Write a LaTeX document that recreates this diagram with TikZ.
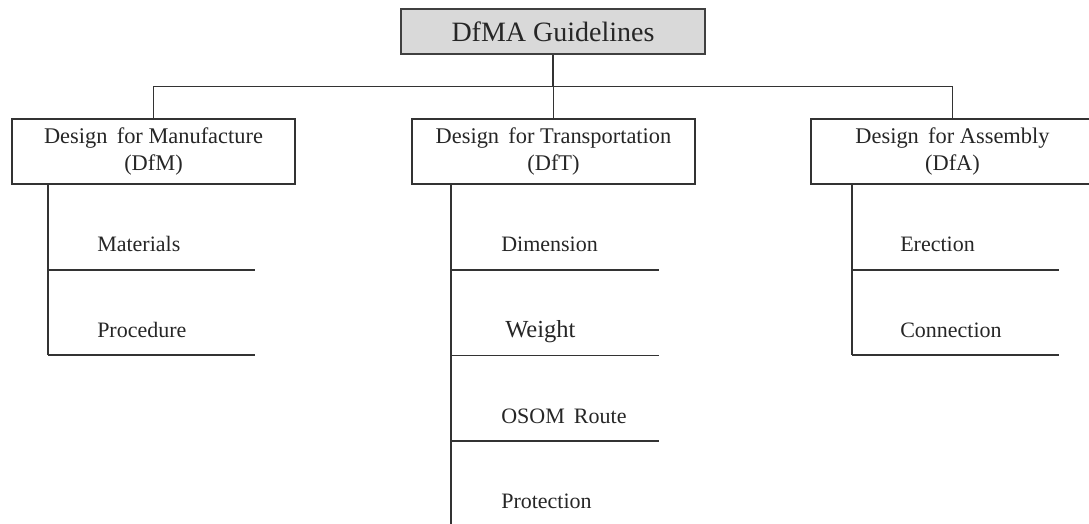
\documentclass[tikz,border=0pt]{standalone}
\usepackage{fontspec}
\setmainfont{Liberation Serif}
\newfontfamily\tnr{Liberation Serif}
\begin{document}
\begin{tikzpicture}[x=0.75pt,y=-0.75pt,
  conn/.style={draw=black!80, line width=1pt},
  topbox/.style={draw=black!75, line width=1pt, fill=black!15, minimum width=228pt,
    minimum height=33.75pt, inner sep=0pt, text=black!85,
    font=\tnr\fontsize{21pt}{25pt}\selectfont},
  catbox/.style={draw=black!80, line width=1pt, fill=white, minimum width=212.25pt,
    minimum height=48.75pt, inner sep=0pt, align=center, text=black!85,
    font=\tnr\fontsize{16.8pt}{20.6pt}\selectfont},
  item/.style={anchor=base west, inner sep=0pt, text=black!85,
    font=\tnr\fontsize{16.5pt}{20pt}\selectfont},
  bigitem/.style={item, font=\tnr\fontsize{18.4pt}{22pt}\selectfont}]
\useasboundingbox (0,0) rectangle (1089,524);

% title and the three categories
\node[topbox] (top) at (553,31.5) {DfMA Guidelines};
\node[catbox] (dfm) at (153.5,151.5) {Design\, for Manufacture\\(DfM)};
\node[catbox] (dft) at (553.5,151.5) {Design\, for Transportation\\(DfT)};
\node[catbox] (dfa) at (952.5,151.5) {Design\, for Assembly\\(DfA)};

% bus connecting the title to the categories
\coordinate (bus) at (553,86.5);
\draw[conn] (top.south) -- (top.south |- bus);
\draw[conn] (dfm.north) -- (dfm.north |- bus) -- (dfa.north |- bus) -- (dfa.north);
\draw[conn] (dft.north |- bus) -- (dft.north);

% DfM branch
\coordinate (mtop) at (48,184);
\coordinate (m1) at (48,270);
\coordinate (m2) at (48,355);
\draw[conn] (mtop) -- (m2);
\draw[conn] (m1) -- ++(207,0);
\draw[conn] (m2) -- ++(207,0);
\node[item] (mat) at (97,252) {Materials};
\node[item] (proc) at (97,337) {Procedure};

% DfT branch
\coordinate (ttop) at (451,184);
\coordinate (t1) at (451,270);
\coordinate (t2) at (451,355.5);
\coordinate (t3) at (451,441);
\coordinate (tend) at (451,524);
\draw[conn] (ttop) -- (tend);
\draw[conn] (t1) -- ++(208,0);
\draw[conn] (t2) -- ++(208,0);
\draw[conn] (t3) -- ++(208,0);
\node[item] (dim) at (501,252) {Dimension};
\node[bigitem] (wt) at (505,337.7) {Weight};
\node[item] (osom) at (501,423) {OSOM\, Route};
\node[item] (prot) at (501,508) {Protection};

% DfA branch
\coordinate (atop) at (852,184);
\coordinate (a1) at (852,270);
\coordinate (a2) at (852,355);
\draw[conn] (atop) -- (a2);
\draw[conn] (a1) -- ++(207,0);
\draw[conn] (a2) -- ++(207,0);
\node[item] (ere) at (900,252) {Erection};
\node[item] (con) at (900,337) {Connection};
\end{tikzpicture}
\end{document}
